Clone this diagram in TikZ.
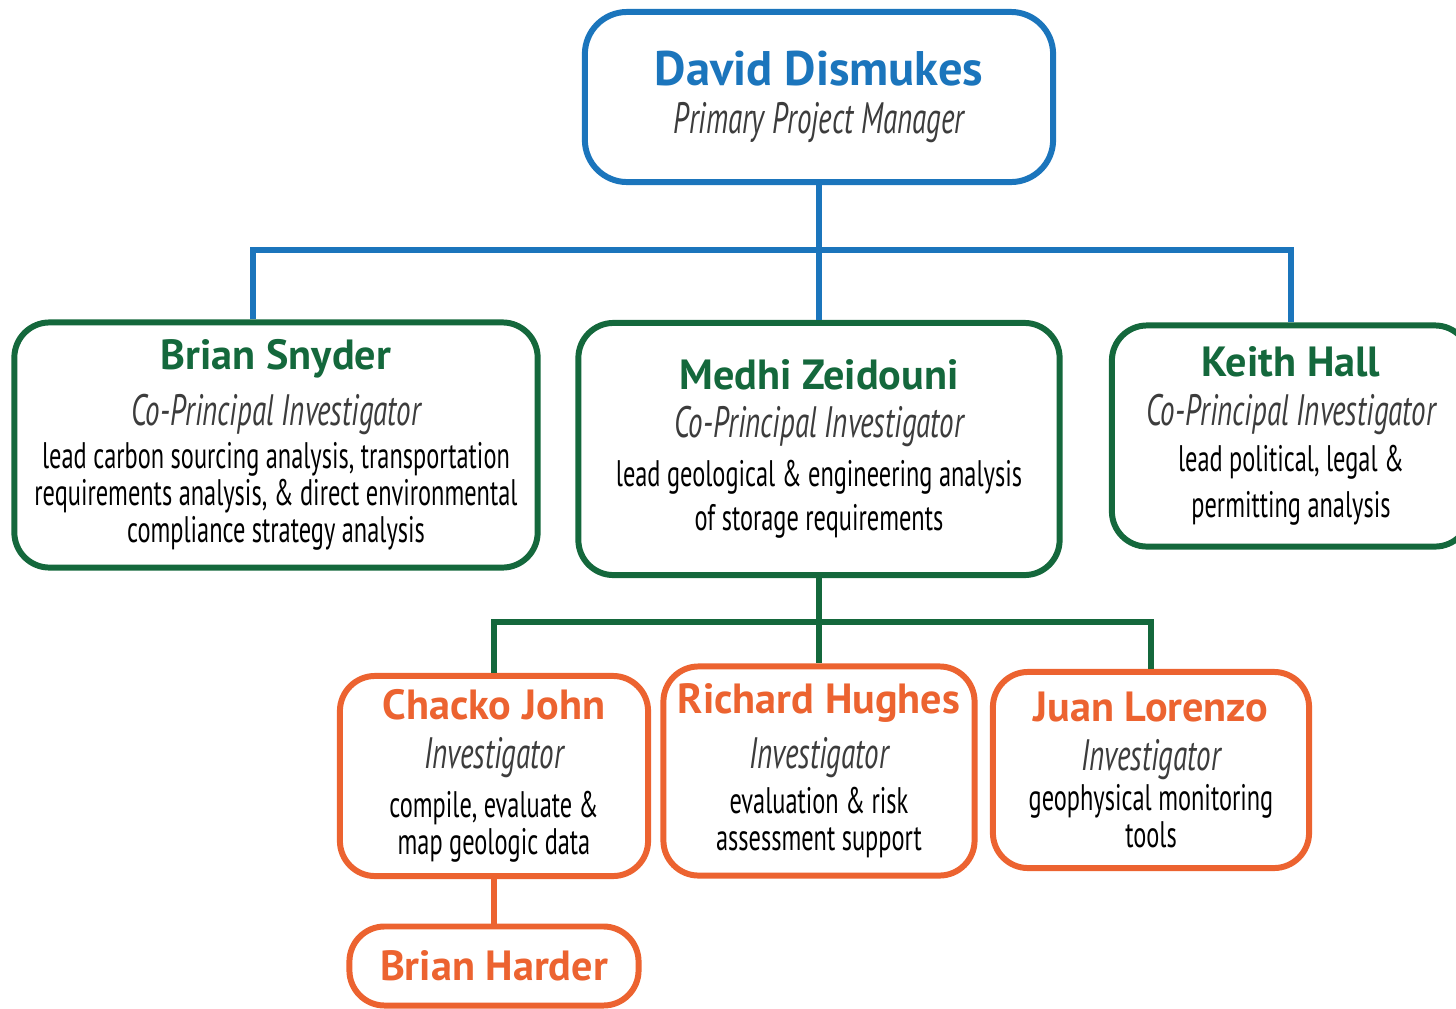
\documentclass[tikz,border=0pt]{standalone}
\usepackage{fontspec}
\setmainfont{PT Sans}
\newfontfamily\narrowfont[FakeStretch=0.66]{PT Sans}

\definecolor{lsublue}{RGB}{27,117,188}
\definecolor{lsugreen}{RGB}{20,104,60}
\definecolor{lsuorange}{RGB}{236,99,48}
\definecolor{titlegray}{RGB}{60,60,60}

% name, title and duty lines
\newcommand{\pname}[2]{{\color{#1}\rmfamily\fontsize{12}{14}\selectfont\bfseries #2}}
\newcommand{\ptitle}[1]{{\color{titlegray}\narrowfont\itshape\fontsize{12.5}{14}\selectfont #1}}

\begin{document}
\begin{tikzpicture}[x=0.01cm, y=-0.01cm,
    card/.style={draw, line width=1.7pt, rounded corners=10pt, fill=white,
      align=center, inner sep=0pt,
      font=\narrowfont\fontsize{10.5}{10.5}\selectfont},
    bluecard/.style={card, draw=lsublue, rounded corners=12pt},
    greencard/.style={card, draw=lsugreen},
    orangecard/.style={card, draw=lsuorange},
    link/.style={line width=1.7pt}]
  \useasboundingbox (0,0) rectangle (1456,1008);

  % manager
  \node[bluecard, minimum width=4.68cm, minimum height=1.70cm] (dismukes) at (819,97)
    {{\color{lsublue}\rmfamily\fontsize{13.8}{15}\selectfont\bfseries David Dismukes}\\[3pt]
     \ptitle{Primary Project Manager}};

  % co-principal investigators
  \node[greencard, minimum width=5.23cm, minimum height=2.45cm] (snyder) at (276,445)
    {\pname{lsugreen}{Brian Snyder}\\[3.5pt] \ptitle{Co-Principal Investigator}\\[1.7pt]
     lead carbon sourcing analysis, transportation\\
     requirements analysis, \& direct environmental\\
     compliance strategy analysis};
  \node[greencard, minimum width=4.81cm, minimum height=2.52cm] (zeidouni) at (819,449)
    {\pname{lsugreen}{Medhi Zeidouni}\\[3pt] \ptitle{Co-Principal Investigator}\\[3.5pt]
     lead geological \& engineering analysis\\[2pt]
     of storage requirements};
  \node[greencard, minimum width=3.58cm, minimum height=2.21cm] (hall) at (1291,436)
    {\pname{lsugreen}{Keith Hall}\\[3.5pt] \ptitle{Co-Principal Investigator}\\[2.5pt]
     lead political, legal \&\\[2.5pt]
     permitting analysis};

  % investigators
  \node[orangecard, minimum width=3.08cm, minimum height=2.00cm] (john) at (494,776)
    {\pname{lsuorange}{Chacko John}\\[3.5pt] \ptitle{Investigator}\\[3.5pt]
     compile, evaluate \&\\ map geologic data};
  \node[orangecard, minimum width=3.11cm, minimum height=2.09cm] (hughes) at (819,771)
    {\pname{lsuorange}{Richard Hughes}\\[3pt] \ptitle{Investigator}\\[2.5pt]
     evaluation \& risk\\ assessment support};
  \node[orangecard, minimum width=3.16cm, minimum height=1.96cm] (lorenzo) at (1151,770)
    {\pname{lsuorange}{Juan Lorenzo}\\[3.5pt] \ptitle{Investigator}\\[1pt]
     geophysical monitoring\\ tools};
  \node[orangecard, minimum width=2.89cm, minimum height=0.79cm] (harder) at (494,966)
    {\pname{lsuorange}{Brian Harder}};

  % connectors
  \coordinate (topbus) at (819,250);
  \coordinate (leftdrop) at (253,250);
  \coordinate (midbus) at (819,622);
  \draw[link, lsublue] (dismukes.south) -- (zeidouni.north);
  \draw[link, lsublue] (leftdrop |- snyder.north) -- (leftdrop) -| (hall.north);
  \draw[link, lsugreen] (zeidouni.south) -- (hughes.north);
  \draw[link, lsugreen] (john.north) |- (midbus) -| (lorenzo.north);
  \draw[link, lsuorange] (john.south) -- (harder.north);
\end{tikzpicture}
\end{document}
